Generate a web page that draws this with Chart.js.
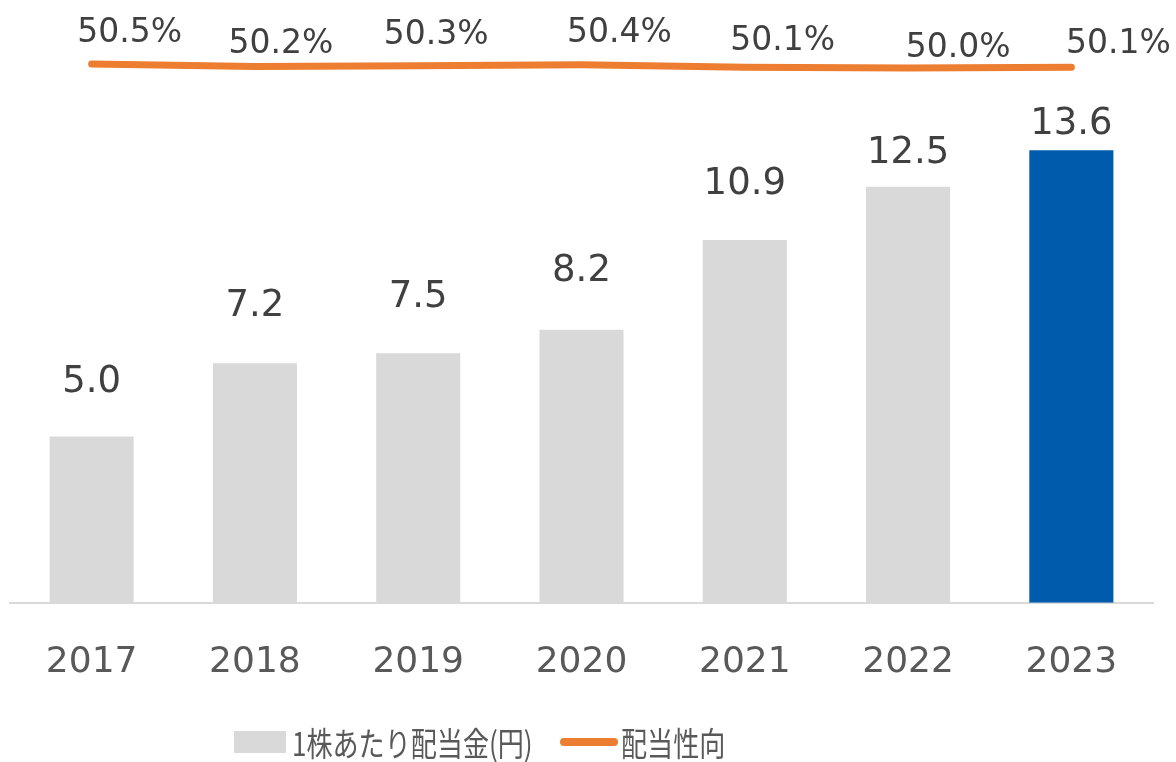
<!DOCTYPE html>
<html lang="ja">
<head>
    <meta charset="UTF-8">
    <title>配当金と配当性向</title>
    <script src="https://cdn.jsdelivr.net/npm/chart.js"></script>
    <style>
        body {
            margin: 0;
            background-color: #FFFFFF;
            font-family: 'DejaVu Sans', 'Noto Sans CJK JP', sans-serif;
        }
        #wrap {
            position: relative;
            width: 1176px;
            height: 741px;
        }
        #legend-container {
            position: absolute;
            left: 0;
            top: 720px;
            width: 1176px;
            height: 44px;
            font-family: 'Noto Sans CJK JP', sans-serif;
            font-size: 33px;
            color: #595959;
        }
        .legend-item {
            position: absolute;
            top: 0;
            height: 44px;
            display: flex;
            align-items: center;
            white-space: nowrap;
        }
        .legend-label {
            transform: scaleX(0.79);
            transform-origin: left center;
        }
        .legend-bar {
            width: 52px;
            height: 22px;
            margin-right: 6px;
        }
        .legend-line {
            width: 58px;
            height: 8px;
            border-radius: 4px;
            margin-right: 3px;
        }
    </style>
</head>
<body>
    <div id="wrap"><canvas id="myChart"></canvas></div>
    <div id="legend-container"></div>

    <script>
        // data
        var years = ['2017', '2018', '2019', '2020', '2021', '2022', '2023'];
        var dividend = [5.0, 7.2, 7.5, 8.2, 10.9, 12.5, 13.6];
        var payoutRatio = [50.5, 50.2, 50.3, 50.4, 50.1, 50.0, 50.1];
        var seriesNames = ['1株あたり配当金(円)', '配当性向'];

        // styles
        var barColors = ['#D9D9D9', '#D9D9D9', '#D9D9D9', '#D9D9D9', '#D9D9D9', '#D9D9D9', '#005BAC'];
        var lineColor = '#ED7D31';
        var barLabelGap = [54, 57, 56, 58, 56, 33, 26];   // label centre above bar top
        var pctLabelDx = [38, 26, 18, 38, 38, 50, 47];
        var pctLabelDy = [-31, -22, -30, -31, -26, -20, -23];

        var valueLabels = {
            id: 'valueLabels',
            afterDatasetsDraw: function(chart) {
                var ctx = chart.ctx;
                ctx.save();
                ctx.fillStyle = '#404040';
                ctx.textAlign = 'center';
                ctx.textBaseline = 'middle';

                ctx.font = '37px "DejaVu Sans"';
                chart.getDatasetMeta(1).data.forEach(function(bar, i) {
                    ctx.fillText(dividend[i].toFixed(1), bar.x, bar.y - barLabelGap[i]);
                });

                ctx.font = '33px "DejaVu Sans"';
                chart.getDatasetMeta(0).data.forEach(function(pt, i) {
                    ctx.fillText(payoutRatio[i].toFixed(1) + '%', pt.x + pctLabelDx[i], pt.y + pctLabelDy[i]);
                });
                ctx.restore();
            }
        };

        var ctx = document.getElementById('myChart').getContext('2d');

        var myChart = new Chart(ctx, {
            data: {
                labels: years,
                datasets: [{
                    type: 'line',
                    label: seriesNames[1],
                    data: payoutRatio,
                    yAxisID: 'y2',
                    borderColor: lineColor,
                    borderWidth: 7,
                    borderCapStyle: 'round',
                    borderJoinStyle: 'round',
                    pointRadius: 0,
                    tension: 0,
                    order: 0
                }, {
                    type: 'bar',
                    label: seriesNames[0],
                    data: dividend,
                    yAxisID: 'y',
                    backgroundColor: barColors,
                    barPercentage: 0.515,
                    categoryPercentage: 1,
                    order: 1
                }]
            },
            options: {
                responsive: true,
                maintainAspectRatio: false,
                animation: false,
                layout: {
                    padding: { left: 10, right: 23, top: 20, bottom: 19 }
                },
                scales: {
                    x: {
                        grid: { display: false, drawTicks: false },
                        border: { display: true, color: '#D9D9D9', width: 2 },
                        ticks: {
                            color: '#595959',
                            padding: 38,
                            font: { family: 'DejaVu Sans', size: 36 }
                        }
                    },
                    y: {
                        display: false,
                        min: 0,
                        max: 17.51
                    },
                    y2: {
                        display: false,
                        min: -16.75,
                        max: 56
                    }
                },
                plugins: {
                    legend: { display: false },
                    tooltip: { enabled: false }
                }
            },
            plugins: [valueLabels]
        });

        // Custom legend
        var legendContainer = document.getElementById('legend-container');
        [
            { name: seriesNames[0], cls: 'legend-bar', color: barColors[0], left: 234 },
            { name: seriesNames[1], cls: 'legend-line', color: lineColor, left: 560 }
        ].forEach(function(item) {
            var legendItem = document.createElement('div');
            legendItem.classList.add('legend-item');
            legendItem.style.left = item.left + 'px';

            var swatch = document.createElement('div');
            swatch.classList.add(item.cls);
            swatch.style.backgroundColor = item.color;

            var label = document.createElement('div');
            label.classList.add('legend-label');
            label.textContent = item.name;

            legendItem.appendChild(swatch);
            legendItem.appendChild(label);
            legendContainer.appendChild(legendItem);
        });
    </script>
</body>
</html>
